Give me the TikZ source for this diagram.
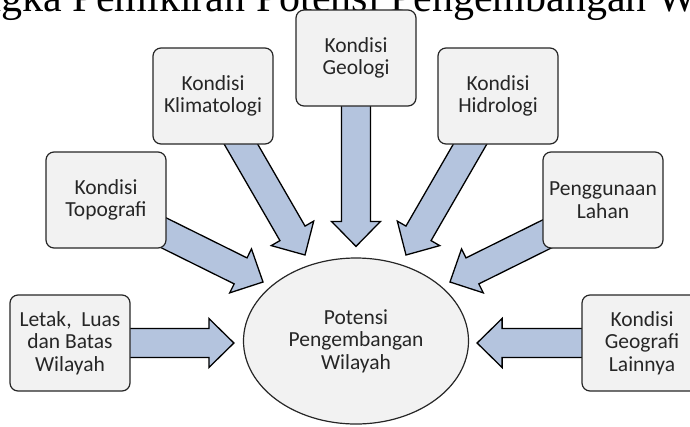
\documentclass[tikz,border=0pt]{standalone}
\usepackage{fontspec}
\setmainfont{Carlito}
\newfontfamily\titlefont{Liberation Serif}
\usepackage{xcolor}
\usepackage{tikz}
\usetikzlibrary{calc}
\usetikzlibrary{shapes}
\usetikzlibrary{shapes.geometric}
\usetikzlibrary{backgrounds}
\definecolor{boxgray}{RGB}{242,242,242}
\definecolor{flowblue}{RGB}{180,196,222}
\definecolor{txtgray}{RGB}{38,38,38}
\tikzstyle{cond} = [rectangle, rounded corners=8pt, draw=black!85, line width=1.2pt, fill=boxgray, minimum width=120pt, minimum height=96pt, inner sep=2pt, align=center, text=txtgray, font=\fontsize{21.5}{22.5}\selectfont]
\tikzstyle{potensi} = [ellipse, draw=black!85, line width=1.2pt, fill=boxgray, minimum width=225pt, minimum height=166pt, inner sep=0pt, align=center, text=txtgray, font=\fontsize{21.5}{22.5}\selectfont]
\tikzstyle{flow} = [draw=black, line width=1.3pt, fill=flowblue, line join=miter]
\newcommand{\fatarrow}[2]{%
  \draw[flow] let \p1=($(#2)-(#1)$), \n1={atan2(\y1,\x1)}, \n2={veclen(\x1,\y1)} in
    [shift={(#1)}, rotate=\n1]
    (0pt,-14.5pt) -- ({\n2-25pt},-14.5pt) -- ({\n2-25pt},-24.5pt) -- ({\n2},0pt)
    -- ({\n2-25pt},24.5pt) -- ({\n2-25pt},14.5pt) -- (0pt,14.5pt) -- cycle;}

\begin{document}
\begin{tikzpicture}[x=1pt, y=-1pt]
\useasboundingbox (0,0) rectangle (690,426);
\clip (0,0) rectangle (690,426);
\node [anchor=base west, inner sep=0pt, font=\titlefont\fontsize{42}{42}\selectfont] (title) at (-101,11) {Kerangka Pemikiran Potensi Pengembangan Wilayah};
\node [cond] (letak) at (70,343) {Letak,~ Luas\\dan Batas\\Wilayah};
\node [cond] (topo) at (106,200) {Kondisi\\Topografi};
\node [cond] (klim) at (213,96) {Kondisi\\Klimatologi};
\node [cond] (geol) at (356,58) {Kondisi\\Geologi};
\node [cond] (hidro) at (498,96) {Kondisi\\Hidrologi};
\node [cond] (peng) at (603,200) {Penggunaan\\Lahan};
\node [cond] (geog) at (642,343) {Kondisi\\Geografi\\Lainnya};
\node [potensi] (pot) at (356,341) {Potensi\\Pengembangan\\Wilayah};
\begin{pgfonlayer}{background}
\coordinate (sletak) at ($(letak.east)+(-4,0)$);
\coordinate (stopo) at ($(topo.center)+(46,27)$);
\coordinate (sklim) at ($(klim.south)+(23,-9)$);
\coordinate (sgeol) at ($(geol.south)+(0,-4)$);
\coordinate (shidro) at ($(hidro.south)+(-23,-9)$);
\coordinate (speng) at ($(peng.center)+(-42,27)$);
\coordinate (sgeog) at ($(geog.west)+(4,0)$);
\coordinate (tletak) at ($(pot.west)+(-9,2)$);
\coordinate (ttopo) at ($(pot.center)+(-93,-59)$);
\coordinate (tklim) at ($(pot.center)+(-51,-86)$);
\coordinate (tgeol) at ($(pot.north)+(0,-11)$);
\coordinate (thidro) at ($(pot.center)+(50,-86)$);
\coordinate (tpeng) at ($(pot.center)+(94,-59)$);
\coordinate (tgeog) at ($(pot.east)+(8,2)$);
\fatarrow{sletak}{tletak}
\fatarrow{stopo}{ttopo}
\fatarrow{sklim}{tklim}
\fatarrow{sgeol}{tgeol}
\fatarrow{shidro}{thidro}
\fatarrow{speng}{tpeng}
\fatarrow{sgeog}{tgeog}
\end{pgfonlayer}
\end{tikzpicture}
\end{document}
